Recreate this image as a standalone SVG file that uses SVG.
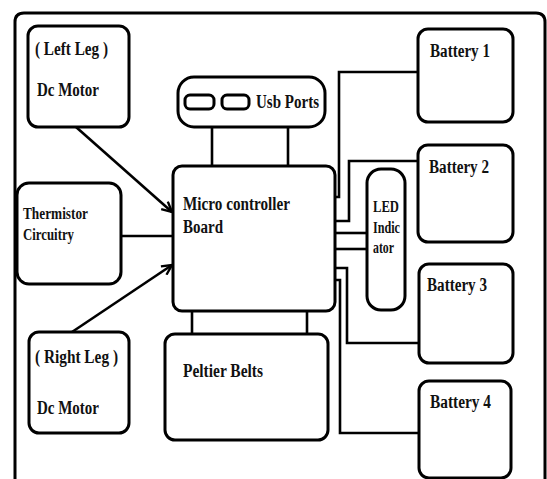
<svg xmlns="http://www.w3.org/2000/svg" width="547" height="479" viewBox="0 0 547 479">
<style>
.box{fill:#fff;stroke:#000;stroke-width:3}
.ln{fill:none;stroke:#000;stroke-width:2.6}
text{font-family:"Liberation Serif","Times New Roman",serif;font-weight:bold;font-size:18px;fill:#111}
.th{font-size:17px}
.sm{font-size:16px}
</style>
<defs>
<marker id="arr" viewBox="0 0 12 12" refX="11" refY="6" markerWidth="12" markerHeight="12" markerUnits="userSpaceOnUse" orient="auto">
<path d="M1,1 L11,6 L1,11" fill="none" stroke="#000" stroke-width="2.4"/>
</marker>
</defs>
<rect width="547" height="479" fill="#fff"/>
<path d="M15,479 L15,22 Q15,13 24,13 L536,13 Q545,13 545,22 L545,479" fill="none" stroke="#000" stroke-width="3"/>
<g id="connectors">
<line class="ln" x1="76" y1="127" x2="172" y2="212" marker-end="url(#arr)"/>
<line class="ln" x1="72" y1="332" x2="172" y2="265" marker-end="url(#arr)"/>
<line class="ln" x1="121" y1="236" x2="173" y2="236"/>
<line class="ln" x1="212" y1="127" x2="212" y2="166"/>
<line class="ln" x1="288" y1="127" x2="288" y2="166"/>
<line class="ln" x1="192" y1="311" x2="192" y2="334"/>
<line class="ln" x1="307" y1="311" x2="307" y2="334"/>
<polyline class="ln" points="418,72 339,72 339,197 335,197"/>
<polyline class="ln" points="418,161 349,161 349,221 335,221"/>
<line class="ln" x1="335" y1="233" x2="367" y2="233"/>
<line class="ln" x1="335" y1="249" x2="367" y2="249"/>
<polyline class="ln" points="335,268 347,268 347,343 419,343"/>
<polyline class="ln" points="335,280 340,280 340,433 419,433"/>
</g>
<g id="left-leg">
<rect class="box" x="28" y="26" width="101" height="101" rx="10"/>
<text x="35" y="55" textLength="73" lengthAdjust="spacingAndGlyphs">( Left Leg )</text>
<text x="37" y="96" textLength="62" lengthAdjust="spacingAndGlyphs">Dc Motor</text>
</g>
<g id="usb-ports">
<rect class="box" x="178" y="77" width="147" height="50" rx="16"/>
<rect class="box" x="185" y="95" width="29" height="14" rx="5"/>
<rect class="box" x="222" y="95" width="27" height="14" rx="5"/>
<text x="256" y="108" textLength="63" lengthAdjust="spacingAndGlyphs">Usb Ports</text>
</g>
<g id="thermistor">
<rect class="box" x="17" y="183" width="104" height="101" rx="12"/>
<text class="th" x="23" y="219" textLength="65" lengthAdjust="spacingAndGlyphs">Thermistor</text>
<text class="th" x="23" y="240" textLength="51" lengthAdjust="spacingAndGlyphs">Circuitry</text>
</g>
<g id="micro-controller">
<rect class="box" x="173" y="166" width="162" height="145" rx="9"/>
<text x="183" y="210" textLength="107" lengthAdjust="spacingAndGlyphs">Micro controller</text>
<text x="183" y="233" textLength="40" lengthAdjust="spacingAndGlyphs">Board</text>
</g>
<g id="right-leg">
<rect class="box" x="29" y="332" width="100" height="101" rx="10"/>
<text x="35" y="363" textLength="83" lengthAdjust="spacingAndGlyphs">( Right Leg )</text>
<text x="37" y="414" textLength="62" lengthAdjust="spacingAndGlyphs">Dc Motor</text>
</g>
<g id="peltier">
<rect class="box" x="165" y="334" width="163" height="106" rx="10"/>
<text x="183" y="377" textLength="80" lengthAdjust="spacingAndGlyphs">Peltier Belts</text>
</g>
<g id="led">
<rect class="box" x="367" y="169" width="38" height="141" rx="14"/>
<text class="sm" x="373" y="212" textLength="26" lengthAdjust="spacingAndGlyphs">LED</text>
<text class="sm" x="373" y="233" textLength="27" lengthAdjust="spacingAndGlyphs">Indic</text>
<text class="sm" x="373" y="253" textLength="21" lengthAdjust="spacingAndGlyphs">ator</text>
</g>
<g id="battery1">
<rect class="box" x="418" y="29" width="95" height="93" rx="10"/>
<text x="430" y="57" textLength="60" lengthAdjust="spacingAndGlyphs">Battery 1</text>
</g>
<g id="battery2">
<rect class="box" x="418" y="145" width="95" height="97" rx="10"/>
<text x="429" y="173" textLength="60" lengthAdjust="spacingAndGlyphs">Battery 2</text>
</g>
<g id="battery3">
<rect class="box" x="419" y="264" width="94" height="99" rx="10"/>
<text x="427" y="291" textLength="60" lengthAdjust="spacingAndGlyphs">Battery 3</text>
</g>
<g id="battery4">
<rect class="box" x="419" y="381" width="92" height="97" rx="10"/>
<text x="430" y="408" textLength="61" lengthAdjust="spacingAndGlyphs">Battery 4</text>
</g>
</svg>
